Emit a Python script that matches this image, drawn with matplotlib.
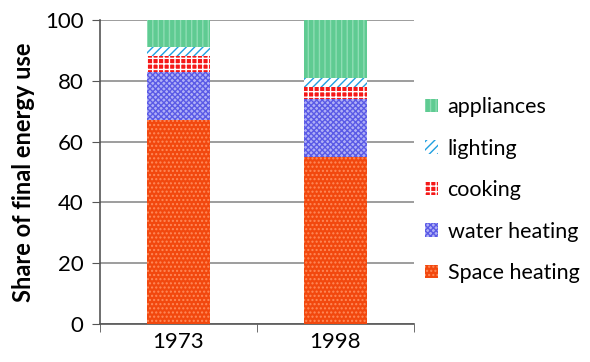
import numpy as np
import matplotlib.pyplot as plt

plt.rcParams['font.family'] = ['Lato', 'DejaVu Sans']
plt.rcParams['hatch.linewidth'] = 1.0

years = ["1973", "1998"]
space_heating = [67, 55]
water_heating = [16, 19]
cooking = [5, 4]
lighting = [3, 3]
appliances = [9, 19]

# stacking order bottom -> top, with fill / hatch colour / hatch
series = [
    ("Space heating", space_heating, "#F2480E", "#FF8A5A", "...."),
    ("water heating", water_heating, "#B0B0F6", "#5A5AE6", "xxxxxx"),
    ("cooking", cooking, "#F51818", "#FFFFFF", "+++"),
    ("lighting", lighting, "#FFFFFF", "#1F9FE0", "////"),
    ("appliances", appliances, "#5FCB92", "#8EDDB4", "|||"),
]

fig = plt.figure(figsize=(5.9, 3.62), dpi=100)
ax = fig.add_axes([0.1695, 0.105, 0.532, 0.84])

x = np.arange(len(years))
bottom = np.zeros(len(years))
handles = []
for name, vals, fc, hc, hatch in series:
    b = ax.bar(x, vals, 0.4, bottom=bottom, color=fc, edgecolor=hc,
               hatch=hatch, linewidth=0, label=name, zorder=3)
    bottom += np.array(vals)
    handles.append(b)

ax.set_xlim(-0.5, 1.5)
ax.set_ylim(0, 100)
ax.set_yticks(np.arange(0, 101, 20))
ax.set_xticks(x)
ax.set_xticklabels(years)
ax.set_xticks([-0.5, 0.5, 1.5], minor=True)
ax.tick_params(axis='x', which='major', length=0, labelsize=16, pad=6)
ax.tick_params(axis='x', which='minor', length=6, color="#555555")
ax.tick_params(axis='y', labelsize=16, length=6, color="#555555", pad=6)
ax.yaxis.grid(True, color="#8C8C8C", linewidth=1.2, zorder=0)
for s in ["top", "right"]:
    ax.spines[s].set_visible(False)
for s in ["left", "bottom"]:
    ax.spines[s].set_color("#555555")
    ax.spines[s].set_linewidth(1.2)

ax.set_ylabel("Share of final energy use", fontsize=17, fontweight="bold",
              labelpad=7)

fig.legend(handles[::-1], [h.get_label() for h in handles[::-1]],
           loc="center left", bbox_to_anchor=(425 / 590, 0.475),
           frameon=False, borderpad=0, borderaxespad=0,
           fontsize=15.5, handlelength=0.6, handleheight=0.6,
           handletextpad=0.45, labelspacing=1.0)

fig.savefig("out.png", dpi=100)
